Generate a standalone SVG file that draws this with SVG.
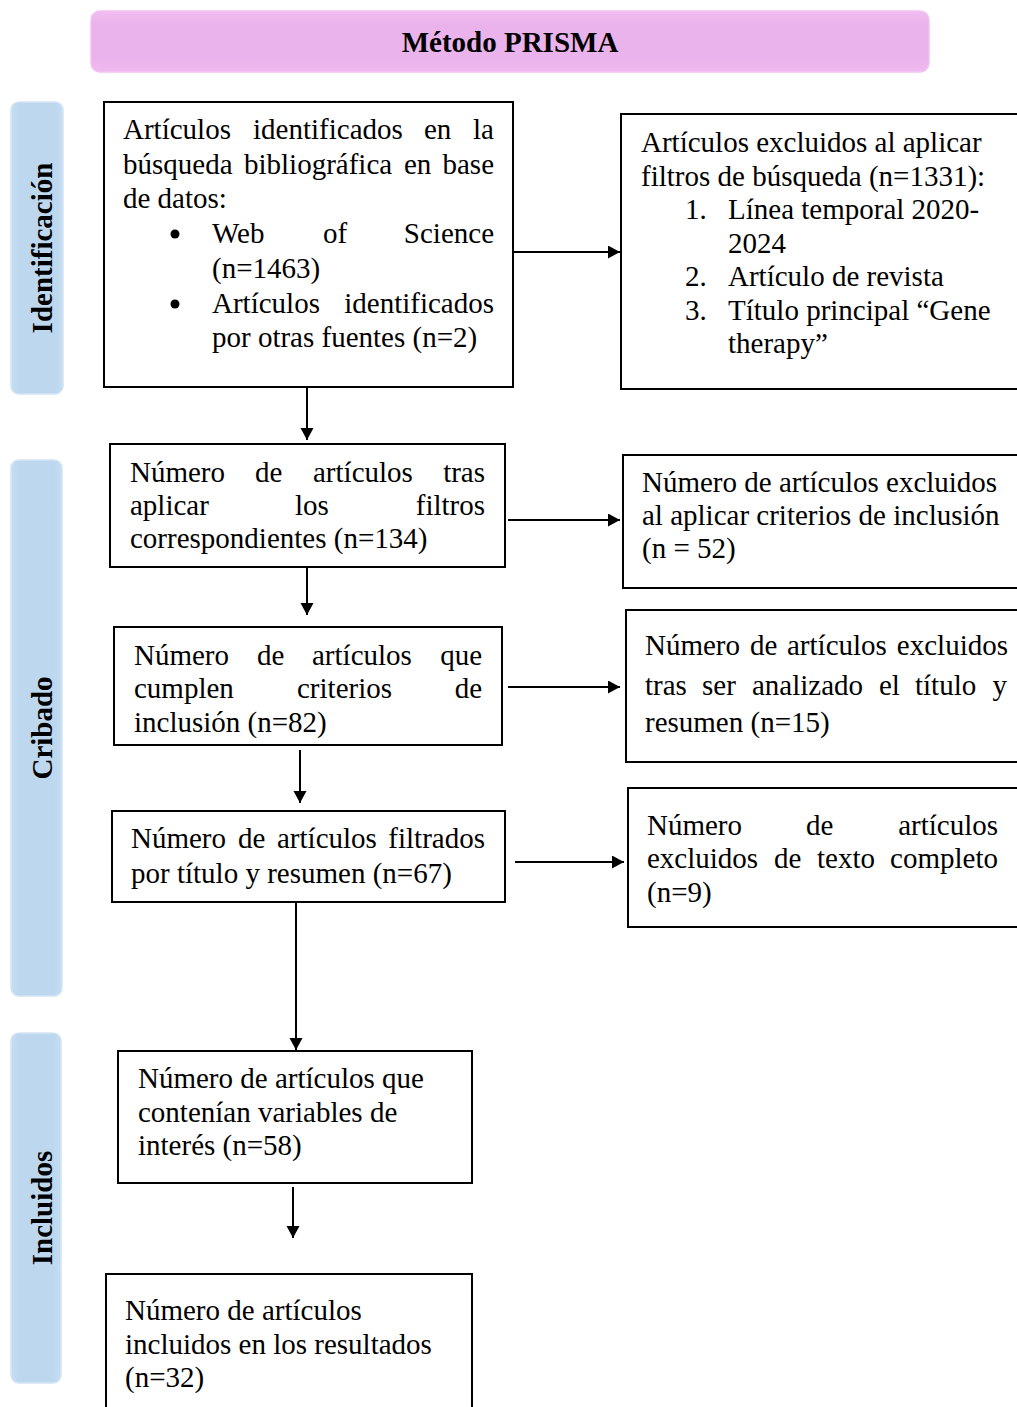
<svg xmlns="http://www.w3.org/2000/svg" width="1017" height="1407" viewBox="0 0 1017 1407">
<style>
.t{font-family:"Liberation Serif","Times New Roman",serif;font-size:29px;fill:#000}
.b{font-family:"Liberation Serif","Times New Roman",serif;font-size:29px;font-weight:bold;fill:#000}
.box{fill:#fff;stroke:#000;stroke-width:2}
.lane{fill:url(#blue);stroke:#d3e5f5;stroke-width:1.5}
.e{text-anchor:end}
.c{stroke:#000;stroke-width:2;fill:none;marker-end:url(#arr)}
</style>
<defs>
<marker id="arr" markerUnits="userSpaceOnUse" markerWidth="14" markerHeight="14" refX="12" refY="6.5" orient="auto">
<path d="M0,0 L12,6.5 L0,13 Z" fill="#000"/>
</marker>
<linearGradient id="blue" x1="0" y1="0" x2="1" y2="0">
<stop offset="0" stop-color="#c6def2"/>
<stop offset="0.15" stop-color="#bdd7ee"/>
<stop offset="0.85" stop-color="#bdd7ee"/>
<stop offset="1" stop-color="#c6def2"/>
</linearGradient>
<linearGradient id="pink" x1="0" y1="0" x2="0" y2="1">
<stop offset="0" stop-color="#f1bdf1"/>
<stop offset="0.2" stop-color="#ebb3eb"/>
<stop offset="0.8" stop-color="#ebb3eb"/>
<stop offset="1" stop-color="#efbaef"/>
</linearGradient>
</defs>

<g id="title">
<rect x="91" y="11" width="838" height="61" rx="9" fill="url(#pink)" stroke="#f2c2f2" stroke-width="1.5"/>
<text class="b" x="510" y="52" text-anchor="middle">Método PRISMA</text>
</g>

<g id="lane-identificacion">
<rect class="lane" x="11" y="102" width="52" height="292" rx="8"/>
<text class="b" transform="translate(52,248) rotate(-90)" text-anchor="middle">Identificación</text>
</g>
<g id="lane-cribado">
<rect class="lane" x="11" y="460" width="51" height="536" rx="8"/>
<text class="b" transform="translate(52,728) rotate(-90)" text-anchor="middle">Cribado</text>
</g>
<g id="lane-incluidos">
<rect class="lane" x="11" y="1033" width="50" height="350" rx="8"/>
<text class="b" transform="translate(52,1208) rotate(-90)" text-anchor="middle">Incluidos</text>
</g>

<g id="n-identificados">
<rect class="box" x="104" y="102" width="409" height="285"/>
<text class="t" x="123" y="139">Artículos</text>
<text class="t" x="253" y="139">identificados</text>
<text class="t" x="424" y="139">en</text>
<text class="t e" x="494" y="139">la</text>
<text class="t" x="123" y="174">búsqueda</text>
<text class="t" x="244" y="174">bibliográfica</text>
<text class="t" x="404" y="174">en</text>
<text class="t e" x="494" y="174">base</text>
<text class="t" x="123" y="208">de datos:</text>
<circle cx="175" cy="234" r="4.5" fill="#000"/>
<text class="t" x="212" y="243">Web</text>
<text class="t" x="323" y="243">of</text>
<text class="t e" x="494" y="243">Science</text>
<text class="t" x="212" y="278">(n=1463)</text>
<circle cx="175" cy="304" r="4.5" fill="#000"/>
<text class="t" x="212" y="313">Artículos</text>
<text class="t e" x="494" y="313">identificados</text>
<text class="t" x="212" y="347">por otras fuentes (n=2)</text>
</g>

<g id="n-excluidos-filtros">
<rect class="box" x="621" y="114" width="410" height="275"/>
<text class="t" x="641" y="152">Artículos excluidos al aplicar</text>
<text class="t" x="641" y="185.5">filtros de búsqueda (n=1331):</text>
<text class="t" x="685" y="219">1.</text>
<text class="t" x="728" y="219">Línea temporal 2020-</text>
<text class="t" x="728" y="252.5">2024</text>
<text class="t" x="685" y="286">2.</text>
<text class="t" x="728" y="286">Artículo de revista</text>
<text class="t" x="685" y="319.5">3.</text>
<text class="t" x="728" y="319.5">Título principal “Gene</text>
<text class="t" x="728" y="353">therapy”</text>
</g>

<g id="n-tras-filtros">
<rect class="box" x="110" y="444" width="395" height="123"/>
<text class="t" x="130" y="482">Número</text>
<text class="t" x="255" y="482">de</text>
<text class="t" x="313" y="482">artículos</text>
<text class="t e" x="485" y="482">tras</text>
<text class="t" x="130" y="515">aplicar</text>
<text class="t" x="295" y="515">los</text>
<text class="t e" x="485" y="515">filtros</text>
<text class="t" x="130" y="548">correspondientes (n=134)</text>
</g>

<g id="n-excluidos-inclusion">
<rect class="box" x="623" y="455" width="410" height="133"/>
<text class="t" x="642" y="492">Número de artículos excluidos</text>
<text class="t" x="642" y="525">al aplicar criterios de inclusión</text>
<text class="t" x="642" y="558">(n = 52)</text>
</g>

<g id="n-cumplen">
<rect class="box" x="114" y="627" width="388" height="118"/>
<text class="t" x="134" y="665">Número</text>
<text class="t" x="257" y="665">de</text>
<text class="t" x="312" y="665">artículos</text>
<text class="t e" x="482" y="665">que</text>
<text class="t" x="134" y="698">cumplen</text>
<text class="t" x="297" y="698">criterios</text>
<text class="t e" x="482" y="698">de</text>
<text class="t" x="134" y="732">inclusión (n=82)</text>
</g>

<g id="n-excluidos-titulo">
<rect class="box" x="626" y="610" width="410" height="152"/>
<text class="t" x="645" y="655">Número</text>
<text class="t" x="750" y="655">de</text>
<text class="t" x="787" y="655">artículos</text>
<text class="t e" x="1008" y="655">excluidos</text>
<text class="t" x="645" y="695">tras</text>
<text class="t" x="702" y="695">ser</text>
<text class="t" x="752" y="695">analizado</text>
<text class="t" x="879" y="695">el</text>
<text class="t" x="915" y="695">título</text>
<text class="t e" x="1007" y="695">y</text>
<text class="t" x="645" y="732">resumen (n=15)</text>
</g>

<g id="n-filtrados">
<rect class="box" x="112" y="811" width="393" height="91"/>
<text class="t" x="131" y="848">Número</text>
<text class="t" x="238" y="848">de</text>
<text class="t" x="277" y="848">artículos</text>
<text class="t e" x="485" y="848">filtrados</text>
<text class="t" x="131" y="883">por título y resumen (n=67)</text>
</g>

<g id="n-excluidos-texto">
<rect class="box" x="628" y="788" width="410" height="139"/>
<text class="t" x="647" y="835">Número</text>
<text class="t" x="806" y="835">de</text>
<text class="t e" x="998" y="835">artículos</text>
<text class="t" x="647" y="868">excluidos</text>
<text class="t" x="774" y="868">de</text>
<text class="t" x="817" y="868">texto</text>
<text class="t e" x="998" y="868">completo</text>
<text class="t" x="647" y="902">(n=9)</text>
</g>

<g id="n-variables">
<rect class="box" x="118" y="1051" width="354" height="132"/>
<text class="t" x="138" y="1088">Número de artículos que</text>
<text class="t" x="138" y="1122">contenían variables de</text>
<text class="t" x="138" y="1155">interés (n=58)</text>
</g>

<g id="n-incluidos">
<rect class="box" x="106" y="1274" width="366" height="150"/>
<text class="t" x="125" y="1320">Número de artículos</text>
<text class="t" x="125" y="1354">incluidos en los resultados</text>
<text class="t" x="125" y="1387">(n=32)</text>
</g>

<g id="connectors">
<path class="c" d="M513,252 H620"/>
<path class="c" d="M307,387 V440"/>
<path class="c" d="M508,520 H620"/>
<path class="c" d="M307,567 V615"/>
<path class="c" d="M508,687 H620"/>
<path class="c" d="M300,750 V803"/>
<path class="c" d="M515,862 H624"/>
<path class="c" d="M296,902 V1050"/>
<path class="c" d="M293,1187 V1238"/>
</g>
</svg>
